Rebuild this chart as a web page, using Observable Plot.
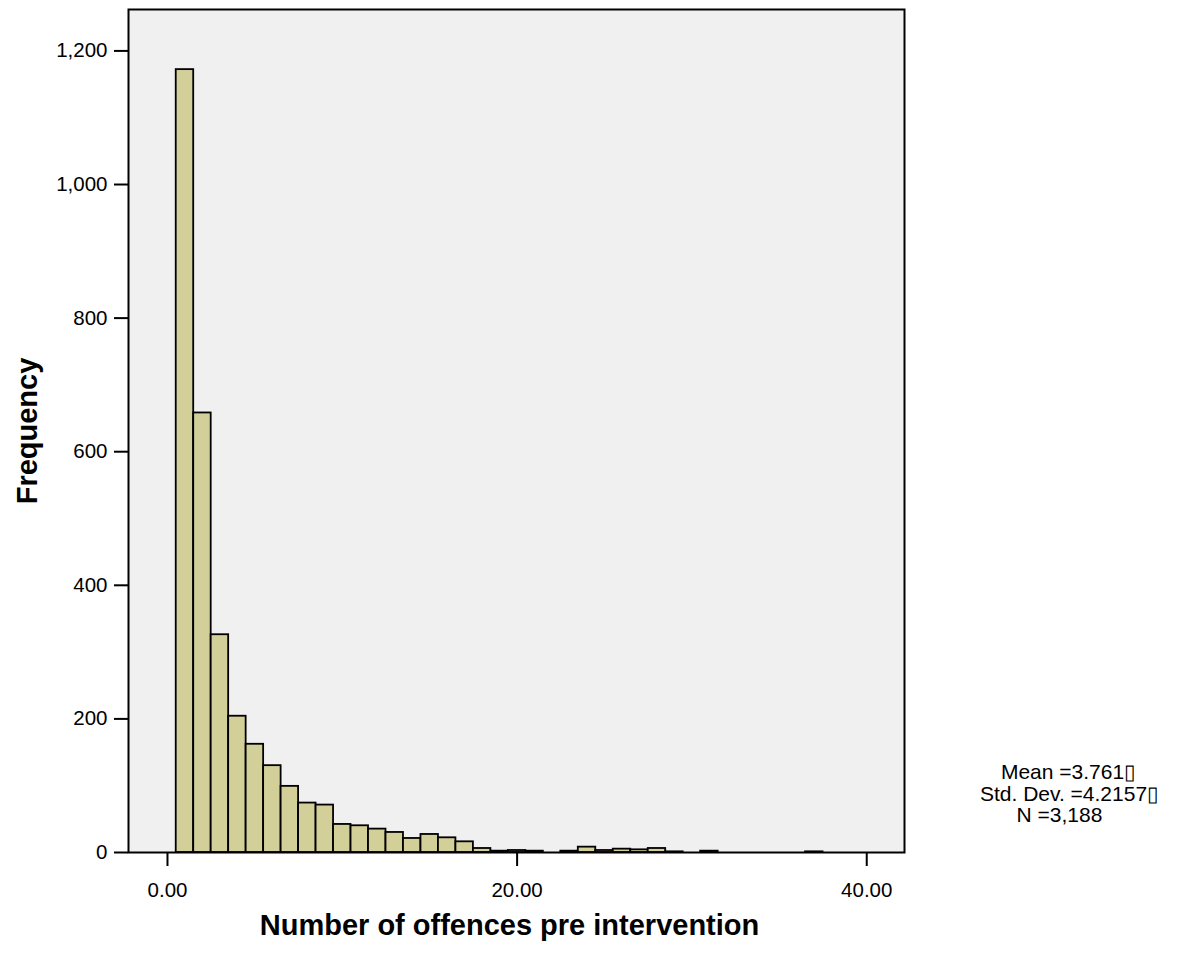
<!DOCTYPE html>
<html>
<head>
<meta charset="utf-8">
<script src="https://cdn.jsdelivr.net/npm/d3@7"></script>
<script src="https://cdn.jsdelivr.net/npm/@observablehq/plot@0.6"></script>
<style>
  html, body { margin: 0; padding: 0; background: #fff; }
  svg { display: block; }
</style>
</head>
<body>
<div id="chart"></div>
<script>
// Number of offences (bin centres, bin width 1)
const offences = [1,2,3,4,5,6,7,8,9,10,11,12,13,14,15,16,17,18,19,20,21,22,23,24,25,26,27,28,29,30,31,32,33,34,35,36,37];
// Frequency per bin
const frequency = [1172,658,326,204,162,130,99,74,71,42,40,35,30,21,27,22,16,6,2,3,2,0,2,8,3,5,4,6,1,0,2,0,0,0,0,0,1];
const xTicks = [0, 20, 40];
const yTicks = [0, 200, 400, 600, 800, 1000, 1200];
const xTitle = "Number of offences pre intervention";
const yTitle = "Frequency";
const statsLines = ["Mean =3.761\u25AF", "Std. Dev. =4.2157\u25AF", "N =3,188"];

const bins = offences.map((v, i) => ({x1: v - 0.5, x2: v + 0.5, count: frequency[i]}))
  .filter(d => d.count > 0);

const font = "'Liberation Sans', Arial, sans-serif";

const chart = Plot.plot({
  width: 1190,
  height: 953,
  marginLeft: 128,
  marginRight: 286,
  marginTop: 9,
  marginBottom: 101,
  style: {fontFamily: font, fontSize: "20.5px", color: "#000", background: "#fff"},
  x: {domain: [-2.23, 42.16]},
  y: {domain: [0, 1262]},
  marks: [
    Plot.frame({fill: "#f0f0f0", stroke: null}),
    Plot.rectY(bins, {x1: "x1", x2: "x2", y: "count", fill: "#d3cf99", stroke: "#000", strokeWidth: 1.8, inset: 0}),
    Plot.frame({stroke: "#000", strokeWidth: 2}),
    Plot.axisX({ticks: xTicks, tickFormat: d3.format(".2f"), tickSize: 14, tickPadding: 16, strokeWidth: 2, label: null, fontSize: 20.5}),
    Plot.axisY({ticks: yTicks, tickFormat: d3.format(","), tickSize: 14, tickPadding: 7, strokeWidth: 2, label: null, fontSize: 20.5}),
    Plot.text([xTitle], {frameAnchor: "bottom", dx: -7, dy: 82, fontWeight: "bold", fontSize: 29, textAnchor: "middle"}),
    Plot.text([yTitle], {frameAnchor: "left", dx: -101, dy: 0, rotate: -90, fontWeight: "bold", fontSize: 29, textAnchor: "middle"}),
    Plot.text([statsLines[0]], {frameAnchor: "bottom-right", dx: 164, dy: -73.7, fontSize: 21, textAnchor: "middle"}),
    Plot.text([statsLines[1]], {frameAnchor: "bottom-right", dx: 165, dy: -51.7, fontSize: 21, textAnchor: "middle"}),
    Plot.text([statsLines[2]], {frameAnchor: "bottom-right", dx: 155, dy: -30.7, fontSize: 21, textAnchor: "middle"})
  ]
});
d3.select(chart)
  .selectAll('g[aria-label="x-axis tick label"], g[aria-label="y-axis tick label"]')
  .attr("font-size", 20.5)
  .style("font-size", "20.5px");
document.getElementById("chart").appendChild(chart);
</script>
</body>
</html>
